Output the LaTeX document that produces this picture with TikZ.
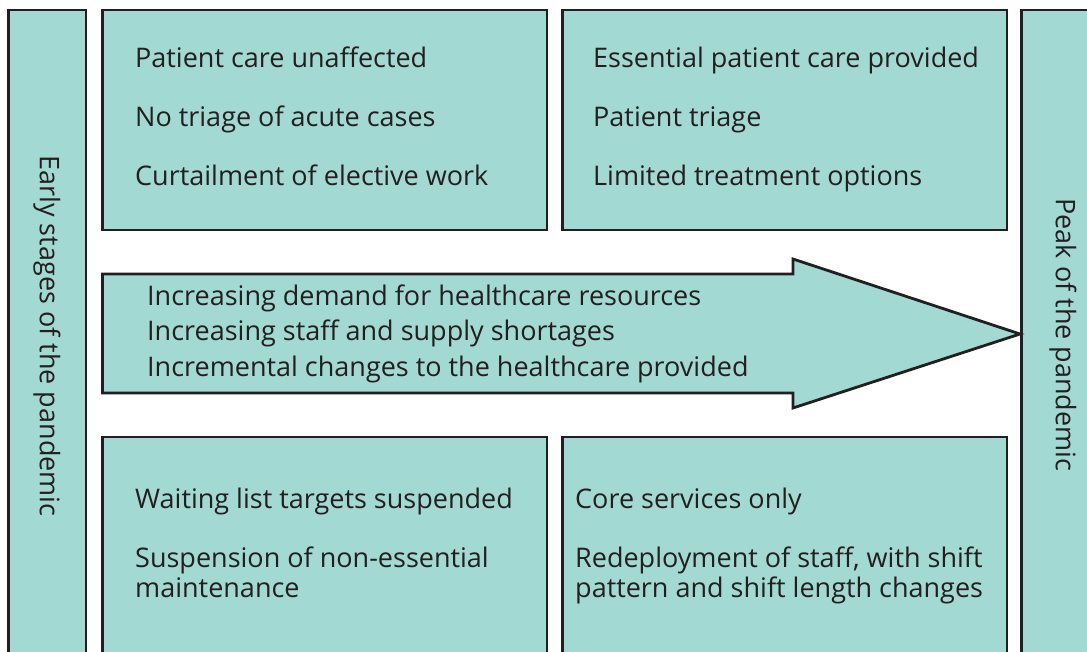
\documentclass[tikz,border=0pt]{standalone}
\usepackage{fontspec}
\setmainfont{Open Sans}
\definecolor{boxfill}{HTML}{A3D9D3}
\definecolor{ink}{HTML}{231F20}
\begin{document}
\begin{tikzpicture}[x=1pt,y=-1pt,
  panel/.style={draw=ink,fill=boxfill,line width=2.8pt,line join=miter},
  txt/.style={anchor=base west,inner sep=0pt,text=ink,align=left,font=\fontsize{27}{29.5}\selectfont},
  arrtxt/.style={anchor=base west,inner sep=0pt,text=ink,align=left,font=\fontsize{27}{35.5}\selectfont},
  vtxt/.style={inner sep=0pt,text=ink,rotate=-90,font=\fontsize{27}{29.5}\selectfont}]
\useasboundingbox (0,0) rectangle (1087,652);
\clip (0,0) rectangle (1087,652);
% side bars
\draw[panel] (8.5,10) rectangle (86,680);
\draw[panel] (1021.5,10) rectangle (1110,680);
% top boxes
\draw[panel] (102.5,10) rectangle (547,230);
\draw[panel] (562.5,10) rectangle (1007,230);
% bottom boxes
\draw[panel] (102.5,437) rectangle (547,680);
\draw[panel] (562.5,437) rectangle (1007,680);
% big arrow
\draw[panel] (102.5,274) -- (793,274) -- (793,259) -- (1020,334) -- (793,408) -- (793,393) -- (102.5,393) -- cycle;
% vertical labels
\node[vtxt] (early) at (47,336) {Early stages of the pandemic};
\node[vtxt] (peak) at (1063,335) {Peak of the pandemic};
% top-left
\node[txt] (tl1) at (135,68) {Patient care unaffected};
\node[txt] (tl2) at (135,127) {No triage of acute cases};
\node[txt] (tl3) at (135,186) {Curtailment of elective work};
% top-right
\node[txt] (tr1) at (593,68) {Essential patient care provided};
\node[txt] (tr2) at (593,127) {Patient triage};
\node[txt] (tr3) at (593,186) {Limited treatment options};
% arrow text (base anchor = last line)
\node[arrtxt] (ar) at (147,376) {Increasing demand for healthcare resources\\Increasing staff and supply shortages\\Incremental changes to the healthcare provided};
% bottom-left
\node[txt] (bl1) at (135,508) {Waiting list targets suspended};
\node[txt] (bl2) at (135,597) {Suspension of non-essential\\maintenance};
% bottom-right
\node[txt] (br1) at (575,508) {Core services only};
\node[txt] (br2) at (575,597) {Redeployment of staff, with shift\\pattern and shift length changes};
\end{tikzpicture}
\end{document}
